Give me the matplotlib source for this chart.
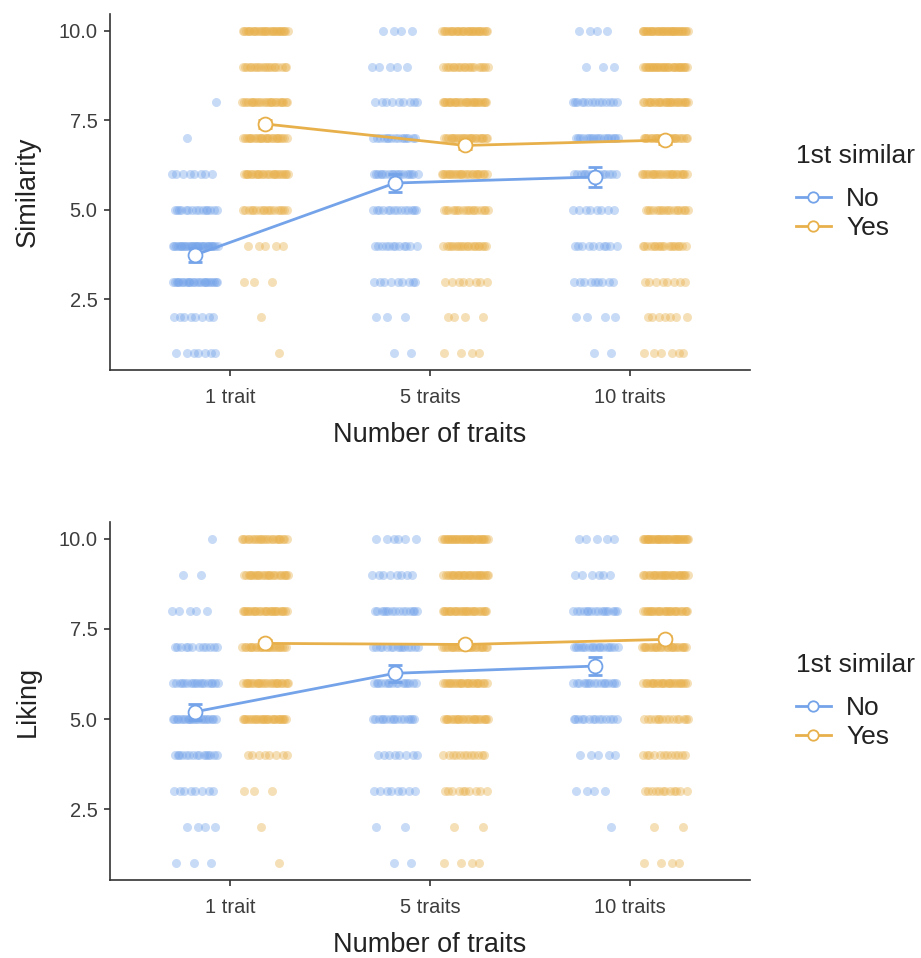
import matplotlib.pyplot as plt
import numpy as np

plt.rcParams['font.family'] = ['Liberation Sans', 'DejaVu Sans']

# categories and groups
conditions = ['1 trait', '5 traits', '10 traits']
groups = ['No', 'Yes']
ratings = [1, 2, 3, 4, 5, 6, 7, 8, 9, 10]

# counts of responses per rating (1..10), per condition
sim_no = [
    [7, 8, 25, 30, 15, 8, 1, 1, 0, 0],
    [2, 3, 9, 12, 14, 18, 15, 9, 5, 4],
    [2, 4, 9, 10, 8, 14, 18, 14, 3, 4],
]
sim_yes = [
    [1, 1, 3, 5, 18, 25, 25, 25, 20, 30],
    [4, 4, 8, 20, 18, 25, 25, 28, 20, 30],
    [6, 7, 8, 18, 18, 25, 25, 28, 32, 36],
]
lik_no = [
    [3, 4, 8, 15, 22, 18, 12, 5, 2, 1],
    [2, 2, 8, 8, 16, 16, 15, 15, 8, 6],
    [0, 1, 4, 5, 14, 16, 18, 16, 6, 5],
]
lik_yes = [
    [1, 1, 3, 8, 28, 25, 25, 28, 25, 24],
    [4, 2, 10, 12, 25, 25, 25, 28, 28, 34],
    [4, 2, 12, 12, 15, 25, 25, 28, 28, 38],
]

# group means and standard errors
sim_mean_no = [3.74, 5.75, 5.92]
sim_se_no = [0.2, 0.25, 0.28]
sim_mean_yes = [7.40, 6.80, 6.95]
sim_se_yes = [0.1, 0.1, 0.1]
lik_mean_no = [5.20, 6.27, 6.47]
lik_se_no = [0.22, 0.24, 0.25]
lik_mean_yes = [7.10, 7.07, 7.21]
lik_se_yes = [0.1, 0.1, 0.1]

BLUE = '#74A3E9'
GOLD = '#E8B04B'
DODGE = 0.175
JIT = 0.115


def draw_points(ax, counts, offset, color, seed):
    for ci, row in enumerate(counts):
        k = seed
        for r, n in zip(ratings, row):
            idx = np.arange(n) + k
            k += n
            # spread points deterministically across the jitter band
            jit = ((idx * 0.6180339887) % 1.0 - 0.5) * 2 * JIT
            ax.scatter(ci + offset + jit, np.full(n, r), s=42, color=color,
                       alpha=0.4, linewidths=0, zorder=1)


def draw_panel(ax, no_counts, yes_counts, mean_no, se_no, mean_yes, se_yes, ylabel):
    x = np.arange(len(conditions))
    draw_points(ax, no_counts, -DODGE, BLUE, 3)
    draw_points(ax, yes_counts, DODGE, GOLD, 11)
    for off, m, se, c, g in [(-DODGE, mean_no, se_no, BLUE, 'No'),
                             (DODGE, mean_yes, se_yes, GOLD, 'Yes')]:
        ax.errorbar(x + off, m, yerr=se, color=c, capsize=5, capthick=2,
                    elinewidth=2, fmt='none', zorder=3)
        ax.plot(x + off, m, color=c, lw=2, marker='o', ms=10,
                mfc='white', mec=c, mew=1.3, zorder=4, label=g)
    ax.set_xlim(-0.6, 2.6)
    ax.set_ylim(0.53, 10.47)
    ax.set_yticks([2.5, 5.0, 7.5, 10.0])
    ax.set_yticklabels(['2.5', '5.0', '7.5', '10.0'])
    ax.set_xticks(x)
    ax.set_xticklabels(conditions)
    for side in ['top', 'right']:
        ax.spines[side].set_visible(False)
    for side in ['left', 'bottom']:
        ax.spines[side].set_color('#333333')
        ax.spines[side].set_linewidth(1.2)
    ax.tick_params(colors='#333333', labelsize=14.5, length=4, width=1.2,
                   labelcolor='#3D3D3D')
    ax.tick_params(axis='x', pad=9)
    ax.tick_params(axis='y', pad=5)
    ax.set_xlabel('Number of traits', fontsize=19.5, color='#222222', labelpad=11)
    ax.set_ylabel(ylabel, fontsize=19.5, color='#222222', labelpad=13)
    leg = ax.legend(title='1st similar', loc='center left', bbox_to_anchor=(1.035, 0.5),
                    frameon=False, fontsize=19, title_fontsize=19, handlelength=1.3,
                    handletextpad=0.6, labelspacing=0.2, markerscale=0.75)
    leg._legend_box.align = 'left'
    leg._legend_box.sep = 14
    leg.get_title().set_color('#222222')
    for t in leg.get_texts():
        t.set_color('#222222')


fig = plt.figure(figsize=(9.21, 9.58), dpi=100)
ax1 = fig.add_axes([0.1194, 0.6138, 0.695, 0.3716])
ax2 = fig.add_axes([0.1194, 0.0814, 0.695, 0.3737])

draw_panel(ax1, sim_no, sim_yes, sim_mean_no, sim_se_no, sim_mean_yes, sim_se_yes, 'Similarity')
draw_panel(ax2, lik_no, lik_yes, lik_mean_no, lik_se_no, lik_mean_yes, lik_se_yes, 'Liking')

fig.savefig('out.png', dpi=100)
